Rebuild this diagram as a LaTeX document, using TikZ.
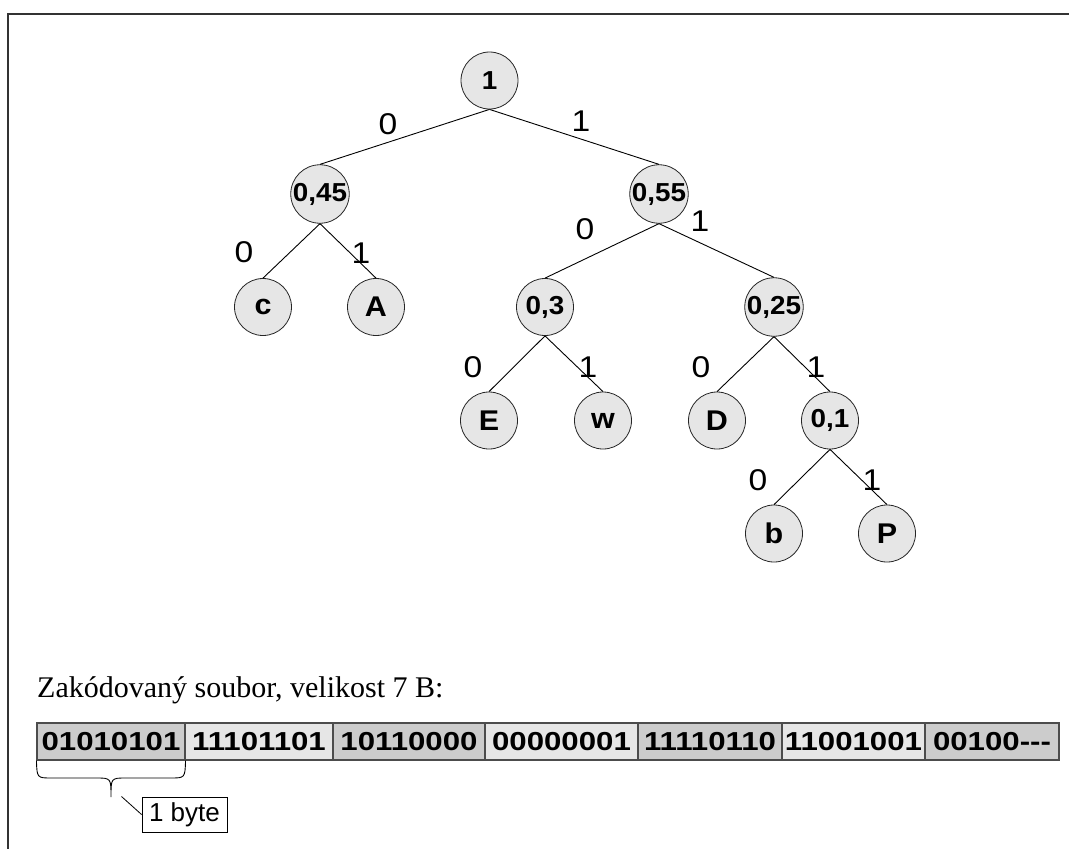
\documentclass[tikz,border=0pt]{standalone}
\usepackage{fontspec}
\setmainfont{Liberation Sans}
\newfontfamily\serifface{Liberation Serif}
\newfontfamily\nodeface[FakeStretch=1.07]{Liberation Sans}
\newfontfamily\labelface[FakeStretch=1.12]{Liberation Sans}
\newfontfamily\bitface[FakeStretch=1.2]{Liberation Sans}
\definecolor{nodefill}{HTML}{E6E6E6}
\definecolor{darkcell}{HTML}{CCCCCC}
\definecolor{lightcell}{HTML}{E6E6E6}
\begin{document}
\begin{tikzpicture}[x=1pt,y=-1pt,
  tnode/.style={circle,draw=black!85,line width=0.8pt,fill=nodefill,minimum size=57pt,inner sep=0pt,
    font=\nodeface\fontsize{26}{28}\selectfont\bfseries},
  leaf/.style={tnode,font=\nodeface\fontsize{28.5}{30}\selectfont\bfseries},
  edge/.style={draw=black,line width=0.9pt},
  elabel/.style={inner sep=0pt,font=\labelface\fontsize{30}{32}\selectfont},
  bitbox/.style={draw=black!70,line width=1.1pt,minimum height=37pt,inner sep=0pt,
    font=\bitface\fontsize{26}{28}\selectfont\bfseries},
  darkbit/.style={bitbox,fill=darkcell},
  lightbit/.style={bitbox,fill=lightcell},
  framel/.style={draw=black!80,line width=1.6pt}]
\useasboundingbox (0,0) rectangle (1069,849);

% page frame
\coordinate (fa) at (1069,14);
\coordinate (fb) at (8,14);
\coordinate (fc) at (8,849);
\draw[framel] (fa) -- (fb) -- (fc);

% Huffman tree
\node[tnode] (root) at (489.5,80.5) {1};
\node[tnode] (n45) at (320,194) {0,45};
\node[tnode] (n55) at (659,194) {0,55};
\node[leaf]  (c)   at (263,307) {c};
\node[leaf]  (A)   at (376,307) {A};
\node[tnode] (n3)  at (545,307) {0,3};
\node[tnode] (n25) at (774,307) {0,25};
\node[leaf]  (E)   at (489,420.5) {E};
\node[leaf]  (w)   at (603,420.5) {w};
\node[leaf]  (D)   at (717,420.5) {D};
\node[tnode] (n1)  at (830,420.5) {0,1};
\node[leaf]  (b)   at (774,533.5) {b};
\node[leaf]  (P)   at (887,533.5) {P};

\foreach \p/\q in {root/n45,root/n55,n45/c,n45/A,n55/n3,n55/n25,n3/E,n3/w,n25/D,n25/n1,n1/b,n1/P}
  \draw[edge] (\p.south) -- (\q.north);

% branch labels
\node[elabel] (l1) at (388,124) {0};
\node[elabel] (l2) at (581,121) {1};
\node[elabel] (l3) at (244,252) {0};
\node[elabel] (l4) at (361,253) {1};
\node[elabel] (l5) at (585,229) {0};
\node[elabel] (l6) at (700,221) {1};
\node[elabel] (l7) at (473,367) {0};
\node[elabel] (l8) at (588,367) {1};
\node[elabel] (l9) at (701,367) {0};
\node[elabel] (l10) at (816,367) {1};
\node[elabel] (l11) at (758,480) {0};
\node[elabel] (l12) at (872,480) {1};

% encoded file
\node[anchor=base west,inner sep=0pt,font=\serifface\fontsize{30}{32}\selectfont] (caption) at (37,697)
  {Zakódovaný soubor, velikost 7 B:};

\node[darkbit,minimum width=148pt]  (b1) at (111,741.5) {01010101};
\node[lightbit,minimum width=148pt] (b2) at (259,741.5) {11101101};
\node[darkbit,minimum width=152pt]  (b3) at (409,741.5) {10110000};
\node[lightbit,minimum width=153pt] (b4) at (561.5,741.5) {00000001};
\node[darkbit,minimum width=144pt]  (b5) at (710,741.5) {11110110};
\node[lightbit,minimum width=143pt] (b6) at (853.5,741.5) {11001001};
\node[darkbit,minimum width=134pt]  (b7) at (992,741.5) {00100{-}{-}{-}};

% brace marking one byte
\coordinate (tip) at (111,797);
\draw[line width=0.9pt] (b1.south west) .. controls (37,778) .. (52,778) -- (96,778)
  .. controls (111,778) .. (tip) .. controls (111,778) .. (126,778) -- (170,778)
  .. controls (185,778) .. (b1.south east);
\node[draw=black,line width=0.9pt,fill=white,minimum width=85pt,minimum height=35pt,inner sep=0pt,
  font=\fontsize{26}{28}\selectfont] (byte) at (184.5,814.5) {1 byte};
\coordinate (lead) at (121.5,796.5);
\draw[line width=0.8pt] (lead) -- (byte.west);
\end{tikzpicture}
\end{document}
